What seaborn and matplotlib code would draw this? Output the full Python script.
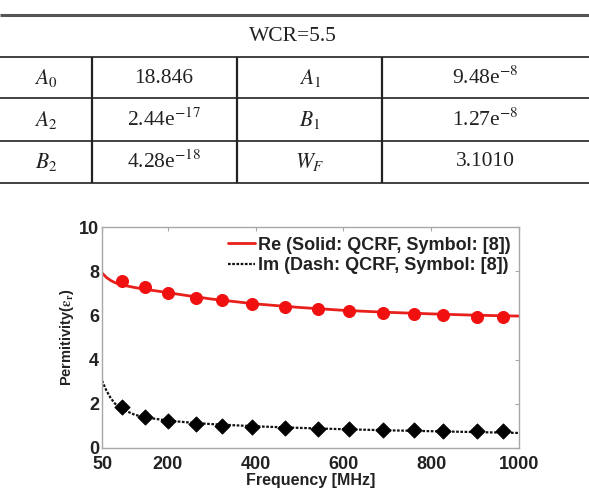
import matplotlib
matplotlib.use("Agg")
import matplotlib.pyplot as plt
import seaborn as sns
import pandas as pd

# tabela de parâmetros
wcr_label = "WCR=5.5"
tab_nomes = [["$A_0$", "$A_1$"], ["$A_2$", "$B_1$"], ["$B_2$", "$W_F$"]]
tab_valores = [["18.846", "9.48e$^{-8}$"], ["2.44e$^{-17}$", "1.27e$^{-8}$"],
               ["4.28e$^{-18}$", "3.1010"]]

# curvas QCRF
freq_curva = [50, 60, 70, 80, 100, 125, 150, 200, 250, 300, 400, 500, 600, 700, 800, 900, 1000]
re_curva = [7.92, 7.72, 7.58, 7.48, 7.36, 7.26, 7.18, 7.03, 6.88, 6.74, 6.52, 6.36, 6.23,
            6.14, 6.07, 6.01, 5.97]
im_curva = [3.05, 2.60, 2.25, 2.00, 1.72, 1.50, 1.38, 1.24, 1.15, 1.08, 0.98, 0.91, 0.85,
            0.80, 0.76, 0.72, 0.68]

# símbolos [8]
freq_simb = [95, 148, 200, 263, 323, 392, 467, 542, 613, 690, 761, 827, 904, 963]
re_simb = [7.57, 7.27, 7.01, 6.81, 6.68, 6.53, 6.40, 6.30, 6.22, 6.13, 6.07, 6.00, 5.95, 5.91]
im_simb = [1.84, 1.40, 1.22, 1.09, 1.00, 0.95, 0.89, 0.88, 0.85, 0.82, 0.82, 0.79, 0.77, 0.77]

xticks = [50, 200, 400, 600, 800, 1000]
yticks = [0, 2, 4, 6, 8, 10]

sns.set_style("white")
plt.rcParams['mathtext.fontset'] = 'stix'

fig = plt.figure(figsize=(5.89, 4.91), dpi=100)

# --- tabela desenhada em coordenadas de pixel ---
tab = fig.add_axes([0, 0, 1, 1])
tab.set_xlim(0, 589)
tab.set_ylim(491, 0)
tab.axis("off")
tab.hlines(15, 0, 589, color="#555555", lw=2.2)
for y in [57, 98, 141, 183]:
    tab.hlines(y, 0, 589, color="#333333", lw=1.3)
for x in [92, 237, 382]:
    tab.vlines(x, 57, 183, color="#222222", lw=1.6)
serif = dict(family="Liberation Serif", fontsize=15.5, ha="center", va="center", color="#222222")
tab.text(293, 36, wcr_label, **serif)
for i, (nomes, vals) in enumerate(zip(tab_nomes, tab_valores)):
    yc = 78 + 42 * i
    tab.text(46, yc, nomes[0], **serif)
    tab.text(164, yc, vals[0], **serif)
    tab.text(310, yc, nomes[1], **serif)
    tab.text(485, yc, vals[1], **serif)

# --- gráfico ---
ax = fig.add_axes([0.1732, 0.0876, 0.708, 0.450])
curva = pd.DataFrame({"f": freq_curva, "re": re_curva, "im": im_curva})
simb = pd.DataFrame({"f": freq_simb, "re": re_simb, "im": im_simb})

sns.lineplot(data=curva, x="f", y="re", color="#e8201c", lw=2,
             label="Re (Solid: QCRF, Symbol: [8])", ax=ax)
sns.lineplot(data=curva, x="f", y="im", color="#111111", lw=1.6, linestyle=(0, (1.2, 0.7)),
             label="Im (Dash: QCRF, Symbol: [8])", ax=ax)
sns.scatterplot(data=simb, x="f", y="re", color="#f01010", marker="o", s=75,
                edgecolor="#f01010", ax=ax, zorder=3)
sns.scatterplot(data=simb, x="f", y="im", color="black", marker="D", s=60,
                edgecolor="black", ax=ax, zorder=3)

ax.set_xlim(50, 1000)
ax.set_ylim(0, 10)
ax.set_xticks(xticks)
ax.set_yticks(yticks)
for sp in ax.spines.values():
    sp.set_color("#a8a8a8")
    sp.set_linewidth(1.0)
ax.tick_params(direction="in", length=3, color="#a8a8a8", top=True, right=True,
               labelsize=13, pad=2)
ax.tick_params(axis="x", pad=6)
for lab in ax.get_xticklabels() + ax.get_yticklabels():
    lab.set_fontweight("bold")
    lab.set_family("Liberation Sans")
    lab.set_color("#222222")
ax.set_xlabel("Frequency [MHz]", fontsize=11.5, fontweight="bold", family="Liberation Sans",
              labelpad=0, color="#222222")
ax.set_ylabel(r"Permitivity($\mathbf{\epsilon_r}$)", fontsize=10.5, fontweight="bold",
              family="Liberation Sans", labelpad=2, color="#222222")

leg = ax.legend(loc="upper right", bbox_to_anchor=(1.02, 1.03), frameon=False,
                handlelength=1.5, handletextpad=0.2, labelspacing=0.2,
                prop={"family": "Liberation Sans", "weight": "bold", "size": 13})
for t in leg.get_texts():
    t.set_color("#222222")

fig.savefig("out.png", dpi=100)
